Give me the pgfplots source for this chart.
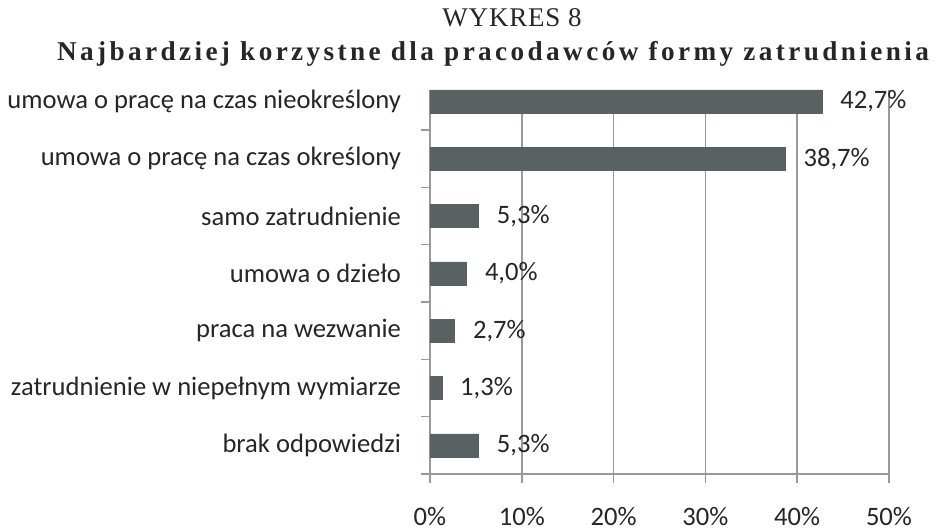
\documentclass[border=0pt]{standalone}
\usepackage{fontspec}
\setmainfont{Carlito}
\newfontfamily\titlefont[LetterSpace=3]{Liberation Serif}
\newfontfamily\titlefontb[LetterSpace=12.5]{Liberation Serif}
\usepackage{pgfplots}
\pgfplotsset{compat=1.18}
\definecolor{barc}{HTML}{596163}
\definecolor{gridc}{HTML}{999999}
\definecolor{txt}{HTML}{262626}
\begin{document}
\begin{tikzpicture}
\useasboundingbox (-215pt,-27.5pt) rectangle (254pt,237pt);
\begin{axis}[
  at={(0,0)}, anchor=south west,
  scale only axis, width=229.5pt, height=192pt,
  xmin=0, xmax=50, ymin=-0.5, ymax=6.2,
  xbar, bar width=11.5pt,
  axis x line*=bottom, axis y line*=left,
  axis line style={draw=gridc, line width=0.75pt},
  xtick={0,10,20,30,40,50},
  xticklabels={0\%,10\%,20\%,30\%,40\%,50\%},
  ytick={0,1,2,3,4,5,6},
  yticklabels={brak odpowiedzi,zatrudnienie w niepełnym wymiarze,praca na wezwanie,umowa o dzieło,samo zatrudnienie,umowa o pracę na czas określony,umowa o pracę na czas nieokreślony},
  minor ytick={-0.5,0.5,1.5,2.5,3.5,4.5,5.5},
  y tick style={draw=none},
  minor y tick style={draw=gridc, line width=0.75pt},
  x tick style={draw=gridc, line width=0.75pt},
  tick align=outside,
  major tick length=4.5pt, minor tick length=4.5pt,
  xmajorgrids, grid style={draw=gridc, line width=0.75pt},
  ticklabel style={font=\fontsize{13.3}{15}\selectfont, text=txt},
  xticklabel style={yshift=-8.5pt},
  yticklabel style={xshift=-6.5pt},
  point meta=explicit symbolic,
  nodes near coords,
  nodes near coords style={font=\fontsize{13.3}{15}\selectfont, text=txt, inner sep=0pt, anchor=west, xshift=9pt},
  clip=false,
]
\addplot[fill=barc, draw=barc, line width=0.3pt] coordinates {
  (42.7,6) [42,7\%]
  (38.7,5) [38,7\%]
  (5.3,4) [5,3\%]
  (4.0,3) [4,0\%]
  (2.7,2) [2,7\%]
  (1.3,1) [1,3\%]
  (5.3,0) [5,3\%]
};
\end{axis}
\node[anchor=base, text=txt, font=\titlefont\fontsize{13.5}{15}\selectfont] at (41pt,223.5pt) {WYKRES 8};
\node[anchor=base, text=txt, font=\titlefontb\bfseries\fontsize{13.6}{15}\selectfont] at (31.5pt,206.5pt) {Najbardziej korzystne dla pracodawców formy zatrudnienia};
\end{tikzpicture}
\end{document}
